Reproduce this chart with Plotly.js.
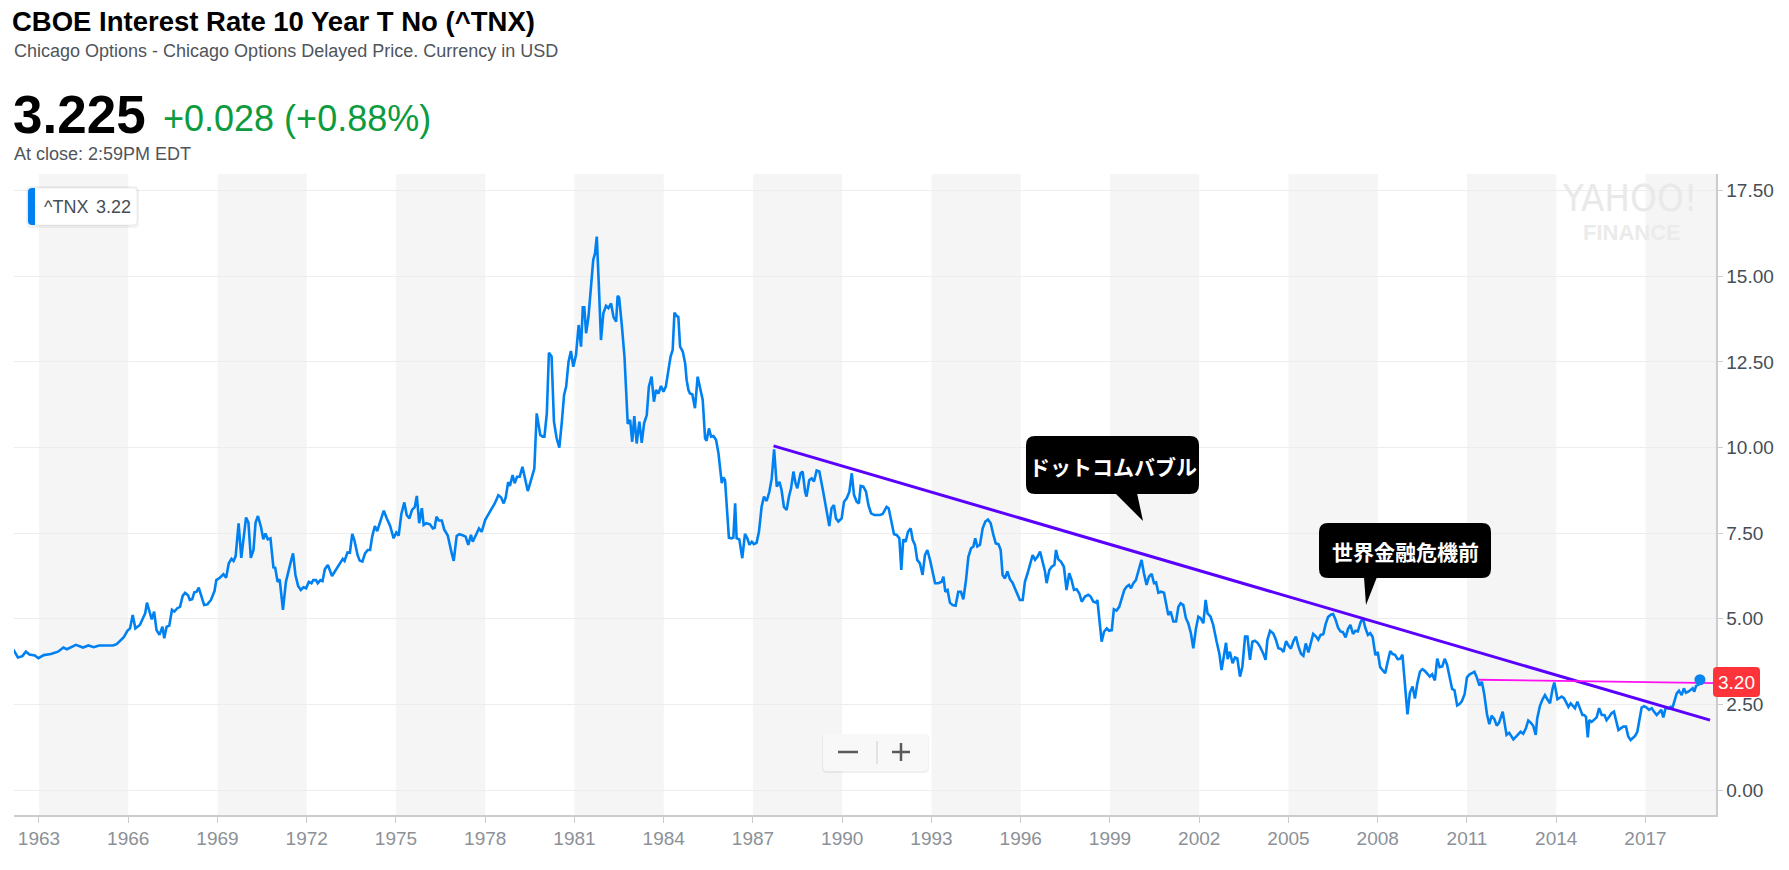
<!DOCTYPE html>
<html>
<head>
<meta charset="utf-8">
<script src="https://cdn.plot.ly/plotly-3.0.1.min.js"></script>
<style>
html,body{margin:0;padding:0;background:#fff;}
#chart{width:1789px;height:870px;}
</style>
</head>
<body>
<div id="chart"></div>
<script>
// ---- Data (decimal year, yield %) ----
const years = [
1962.08,1962.145,1962.29,1962.44,1962.56,1962.68,1962.86,1962.98,1963.16,1963.40,1963.64,1963.82,1963.94,
1964.24,1964.48,1964.66,1964.84,1965.02,1965.26,1965.49,1965.61,1965.85,1965.97,1966.06,1966.15,1966.24,
1966.39,1966.57,1966.63,1966.79,1966.87,1966.95,1967.05,1967.15,1967.21,1967.29,1967.38,1967.47,1967.55,
1967.65,1967.74,1967.83,1967.91,1968.01,1968.07,1968.15,1968.22,1968.30,1968.37,1968.46,1968.55,1968.66,
1968.78,1968.90,1968.96,1969.08,1969.20,1969.29,1969.38,1969.47,1969.54,1969.61,1969.71,1969.80,1969.88,
1969.96,1970.04,1970.12,1970.21,1970.28,1970.36,1970.46,1970.54,1970.61,1970.69,1970.78,1970.88,1970.94,
1971.02,1971.09,1971.20,1971.30,1971.48,1971.54,1971.62,1971.71,1971.80,1971.89,1971.98,1972.07,1972.16,
1972.22,1972.31,1972.37,1972.46,1972.53,1972.61,1972.71,1972.85,1972.97,1973.09,1973.21,1973.27,1973.37,
1973.45,1973.53,1973.60,1973.71,1973.78,1973.87,1973.96,1974.05,1974.13,1974.20,1974.29,1974.37,1974.47,
1974.59,1974.68,1974.80,1974.92,1975.01,1975.09,1975.18,1975.28,1975.36,1975.45,1975.54,1975.63,1975.70,
1975.78,1975.87,1975.93,1976.02,1976.14,1976.24,1976.30,1976.36,1976.44,1976.54,1976.62,1976.74,1976.86,
1976.94,1977.04,1977.13,1977.24,1977.34,1977.43,1977.52,1977.58,1977.70,1977.79,1977.88,1978.00,1978.11,
1978.23,1978.32,1978.44,1978.53,1978.62,1978.69,1978.77,1978.83,1978.92,1978.99,1979.07,1979.16,1979.25,
1979.35,1979.43,1979.51,1979.65,1979.73,1979.85,1979.93,1979.99,
1980.07,1980.14,1980.23,1980.31,1980.40,1980.49,1980.57,1980.65,1980.72,1980.80,1980.88,1980.96,1981.05,
1981.14,1981.22,1981.28,1981.33,1981.39,1981.47,1981.56,1981.63,1981.69,1981.75,1981.82,1981.89,1981.97,
1982.06,1982.14,1982.23,1982.31,1982.40,1982.45,1982.50,1982.59,1982.68,1982.79,1982.87,1982.94,1983.01,
1983.09,1983.18,1983.26,1983.34,1983.43,1983.50,1983.59,1983.67,1983.74,1983.82,1983.91,1983.99,1984.07,
1984.16,1984.23,1984.30,1984.36,1984.44,1984.49,1984.55,1984.64,1984.72,1984.77,1984.83,1984.88,1984.96,
1985.05,1985.14,1985.22,1985.31,1985.39,1985.44,1985.52,1985.59,1985.67,1985.76,1985.84,1985.95,1986.00,
1986.06,1986.12,1986.19,1986.28,1986.34,1986.40,1986.45,1986.54,1986.64,1986.73,1986.81,1986.88,1986.96,
1987.03,1987.12,1987.20,1987.29,1987.37,1987.46,1987.55,1987.63,1987.71,1987.80,1987.89,1987.96,1988.04,
1988.13,1988.21,1988.28,1988.36,1988.43,
1988.49,1988.60,1988.67,1988.75,1988.80,1988.89,1988.97,1989.05,1989.14,1989.23,1989.36,1989.48,1989.565,
1989.64,1989.72,1989.79,1989.87,1989.98,1990.06,1990.15,1990.24,1990.32,1990.395,1990.485,1990.56,1990.62,
1990.71,1990.80,1990.88,1990.97,1991.08,1991.18,1991.27,1991.36,1991.44,1991.49,1991.56,1991.64,1991.74,
1991.83,1991.92,1991.985,1992.05,1992.13,1992.21,1992.30,1992.37,1992.445,1992.52,1992.61,1992.70,1992.78,
1992.86,1992.95,1993.04,1993.12,1993.23,1993.34,1993.40,1993.465,1993.54,1993.62,1993.71,1993.81,1993.90,
1993.99,1994.07,1994.16,1994.24,1994.33,1994.41,1994.47,1994.54,1994.63,1994.72,1994.81,1994.90,1994.99,
1995.08,1995.16,1995.25,1995.325,1995.39,1995.47,1995.55,1995.64,1995.72,1995.81,1995.885,1995.97,1996.065,
1996.14,1996.23,1996.31,1996.40,1996.48,1996.56,1996.65,1996.74,1996.815,1996.87,1996.96,1997.04,1997.13,
1997.185,1997.26,1997.35,1997.45,1997.54,1997.63,1997.71,1997.79,1997.88,1997.97,1998.05,1998.16,1998.27,
1998.35,1998.44,1998.53,1998.575,1998.64,1998.72,1998.80,1998.89,1998.97,1999.06,1999.13,1999.22,1999.31,
1999.39,1999.48,1999.56,1999.64,1999.705,1999.785,1999.87,1999.95,2000.06,2000.14,2000.23,2000.31,2000.40,
2000.48,2000.55,2000.625,2000.715,2000.815,2000.88,2000.96,2001.04,2001.13,2001.22,2001.30,2001.375,2001.465,
2001.555,2001.63,2001.72,2001.80,2001.89,2001.97,2002.05,2002.137,2002.215,2002.28,2002.38,2002.47,2002.585,
2002.675,2002.75,2002.83,2002.90,2002.955,2003.03,2003.12,2003.20,2003.28,2003.37,2003.45,2003.54,2003.62,
2003.705,2003.785,2003.87,2003.96,2004.04,2004.15,2004.23,2004.29,2004.38,2004.49,2004.58,2004.66,2004.715,
2004.75,2004.83,2004.92,2005.00,2005.08,2005.17,2005.25,2005.33,2005.42,2005.50,2005.58,2005.67,2005.75,
2005.83,2005.92,2006.00,2006.08,2006.17,2006.25,2006.33,2006.42,2006.50,2006.58,2006.67,2006.75,2006.83,
2006.92,2007.00,2007.08,2007.17,2007.25,2007.33,2007.42,2007.50,2007.58,2007.67,2007.75,2007.83,2007.92,
2008.00,2008.08,2008.17,2008.25,2008.33,2008.42,2008.50,2008.58,2008.67,2008.75,2008.83,2008.92,2009.00,
2009.08,2009.17,2009.25,2009.33,2009.42,2009.50,2009.58,2009.67,2009.75,2009.83,2009.92,2010.00,2010.08,
2010.17,2010.25,2010.33,2010.42,2010.50,2010.58,2010.67,2010.75,2010.83,2010.92,2011.00,2011.08,2011.17,
2011.25,2011.33,2011.42,2011.50,2011.58,2011.67,2011.75,2011.83,2011.92,2012.00,2012.08,
2012.20,2012.28,2012.33,2012.42,2012.50,2012.56,2012.65,2012.725,2012.80,2012.89,2012.98,2013.06,2013.14,
2013.23,2013.31,2013.36,2013.45,2013.54,2013.62,2013.70,2013.79,2013.88,2013.935,2013.99,2014.04,2014.10,
2014.18,2014.26,2014.33,2014.41,2014.485,2014.55,2014.63,2014.71,2014.80,2014.88,2014.94,2015.00,2015.06,
2015.11,2015.19,2015.27,2015.36,2015.44,2015.53,2015.62,2015.69,2015.78,2015.86,2015.94,2016.01,2016.09,
2016.165,2016.255,2016.345,2016.42,2016.50,2016.57,2016.65,2016.725,2016.79,2016.87,2016.95,2017.04,2017.12,
2017.21,2017.285,2017.375,2017.45,2017.53,2017.60,2017.68,2017.77,2017.85,2017.91,2017.97,2018.05,2018.125,
2018.215,2018.29,2018.36,2018.44,2018.52,2018.585,2018.64,2018.70,2018.78,2018.83
];
const yields = [
4.12,4.09,3.87,3.91,4.04,3.96,3.93,3.85,3.94,3.97,4.04,4.16,4.11,
4.24,4.16,4.22,4.17,4.22,4.22,4.22,4.26,4.46,4.65,4.72,5.11,4.72,
4.82,5.16,5.47,4.98,5.21,4.67,4.53,4.77,4.43,4.77,4.80,5.26,5.21,
5.31,5.35,5.67,5.76,5.69,5.55,5.57,5.77,5.79,5.91,5.65,5.40,5.42,
5.55,5.81,6.13,6.20,6.30,6.20,6.62,6.75,6.69,6.83,7.79,6.78,7.30,
7.96,7.81,6.78,7.01,7.81,8.00,7.69,7.32,7.49,7.32,7.35,6.50,6.49,
6.08,6.15,5.26,6.08,6.72,6.91,6.28,5.96,5.84,5.92,5.89,6.08,6.04,
6.13,6.13,6.04,6.13,6.10,6.45,6.57,6.25,6.42,6.57,6.75,6.69,6.94,
6.93,7.48,7.30,6.86,6.70,6.67,6.91,7.01,7.01,7.40,7.71,7.56,7.84,
8.16,7.95,7.72,7.35,7.52,7.43,8.06,8.40,8.03,7.93,8.18,8.26,8.59,
7.79,8.23,7.74,7.79,7.76,7.64,7.66,7.98,7.87,7.87,7.61,7.43,6.96,
6.69,7.42,7.47,7.44,7.40,7.16,7.45,7.25,7.45,7.64,7.54,7.89,8.06,
8.23,8.37,8.61,8.55,8.37,8.55,8.99,8.88,9.20,8.96,9.15,9.15,9.44,
9.07,8.73,8.96,9.39,11.00,10.37,10.32,10.32,
11.00,12.77,12.66,10.76,10.27,10.00,10.71,11.54,11.78,12.51,12.82,12.36,12.70,
13.58,12.95,14.10,14.10,13.34,13.82,14.70,15.48,15.67,16.16,14.70,13.14,13.92,
14.14,14.07,14.21,13.82,13.68,14.43,14.38,13.58,12.66,10.69,10.81,10.17,10.92,
10.12,10.76,10.14,10.71,10.95,11.78,12.07,11.34,11.68,11.58,11.80,11.63,11.78,
12.27,12.66,12.85,13.94,13.84,13.82,12.95,12.80,12.46,11.97,11.68,11.58,11.56,
11.15,12.07,11.78,11.39,10.27,10.20,10.56,10.32,10.34,10.22,9.83,8.96,9.13,
9.05,8.27,7.37,7.35,7.37,8.37,7.35,7.32,6.77,7.48,7.35,7.16,7.25,
7.18,7.22,7.54,8.27,8.57,8.44,8.71,9.10,9.95,8.86,9.00,8.76,8.27,
8.18,8.57,8.81,9.30,8.96,
8.81,9.25,9.30,8.71,8.57,9.05,9.10,9.01,9.33,9.30,8.71,8.13,7.71,
8.23,8.32,7.93,7.84,7.93,8.42,8.52,8.71,9.25,8.62,8.42,8.37,8.88,
8.86,8.71,8.32,8.08,8.03,8.03,8.03,8.06,8.18,8.27,8.23,7.89,7.47,
7.45,7.35,6.43,7.32,7.25,7.54,7.64,7.30,7.16,6.72,6.62,6.28,6.86,
7.01,6.72,6.38,6.04,6.04,6.08,6.23,5.79,5.84,5.47,5.40,5.38,5.79,
5.79,5.57,6.13,6.81,7.06,7.11,7.35,7.11,7.16,7.64,7.84,7.90,7.79,
7.45,7.20,7.18,7.01,6.28,6.18,6.38,6.15,6.06,5.89,5.70,5.55,5.55,
6.08,6.33,6.62,6.86,6.72,6.81,6.96,6.67,6.38,6.04,6.42,6.52,6.57,
7.01,6.74,6.67,6.52,5.84,6.33,6.13,5.84,5.86,5.74,5.50,5.65,5.70,
5.65,5.50,5.47,5.55,5.06,4.33,4.62,4.72,4.65,4.67,5.28,5.24,5.35,
5.60,5.84,5.94,5.99,5.89,6.04,6.13,6.38,6.72,6.33,5.99,6.23,6.31,
6.04,6.06,5.76,5.79,5.76,5.50,5.11,5.21,4.92,4.92,5.35,5.45,5.40,
5.01,4.87,4.58,4.14,4.72,5.06,5.01,4.87,5.55,5.16,5.06,4.82,4.33,
3.99,3.50,3.99,4.30,3.82,4.04,3.70,3.87,3.84,3.31,3.60,4.48,4.48,
3.80,4.33,4.36,4.30,4.19,3.99,3.80,4.38,4.65,4.57,4.38,4.14,4.14,
4.12,4.03,4.35,4.22,4.13,4.36,4.48,4.20,3.98,3.92,4.28,4.02,4.33,
4.56,4.49,4.39,4.53,4.55,4.85,5.05,5.12,5.14,4.98,4.73,4.63,4.61,
4.46,4.70,4.82,4.56,4.65,4.63,4.89,5.03,4.74,4.53,4.58,4.47,3.94,
4.03,3.59,3.51,3.41,3.73,4.06,3.97,3.95,3.82,3.83,3.95,2.92,2.21,
2.84,3.02,2.67,3.12,3.46,3.53,3.48,3.40,3.31,3.38,3.20,3.84,3.59,
3.61,3.83,3.66,3.29,2.95,2.91,2.47,2.51,2.60,2.80,3.29,3.37,3.42,
3.45,3.29,3.05,3.16,2.80,2.22,1.92,2.17,2.07,1.88,1.97,
2.29,1.85,1.61,1.67,1.56,1.48,1.56,1.63,1.70,1.64,1.80,2.03,1.97,
1.87,1.61,2.09,2.45,2.65,2.77,2.65,2.53,2.97,3.14,2.89,2.65,2.68,
2.73,2.68,2.58,2.43,2.53,2.48,2.39,2.58,2.34,2.19,2.19,2.14,1.54,
2.04,1.99,2.04,2.12,2.39,2.19,2.19,2.04,2.14,2.24,2.29,2.04,1.75,
1.80,1.85,1.85,1.56,1.46,1.51,1.58,1.70,1.99,2.41,2.45,2.41,2.34,
2.39,2.29,2.19,2.26,2.34,2.12,2.41,2.38,2.43,2.41,2.58,2.82,2.90,
2.77,2.97,2.84,2.87,2.92,2.97,2.87,3.04,3.07,3.22
];

// Drawn lines (trend line and level line) as on the reference
const trendX = [1987.69, 2019.17];
const trendY = [10.05, 2.04];
const levelX = [2011.40, 2019.37];
const levelY = [3.22, 3.12];

// Axis ticks
const xTickVals = [1963,1966,1969,1972,1975,1978,1981,1984,1987,1990,1993,1996,1999,2002,2005,2008,2011,2014,2017,2020];
const xTickText = xTickVals.map(String);
const yTickVals = [0,2.5,5,7.5,10,12.5,15,17.5];
const yTickText = yTickVals.map(v => v.toFixed(2));
const bandStarts = [1963,1969,1975,1981,1987,1993,1999,2005,2011,2017];

const xRange = [1962.16, 2019.37];
const yRange = [-0.73, 17.99];

// pixel -> paper helpers (plot area: x 14..1716, y 174..815)
const L = 14, R = 1716, T = 174, B = 815;
const P = x => (x - L) / (R - L);
const Q = y => (B - y) / (B - T);

function rrPath(x0, y0, x1, y1, r) {
  const f = (x, y) => P(x).toFixed(5) + ',' + Q(y).toFixed(5);
  return 'M' + f(x0 + r, y0) + ' L' + f(x1 - r, y0) + ' Q' + f(x1, y0) + ' ' + f(x1, y0 + r) +
    ' L' + f(x1, y1 - r) + ' Q' + f(x1, y1) + ' ' + f(x1 - r, y1) +
    ' L' + f(x0 + r, y1) + ' Q' + f(x0, y1) + ' ' + f(x0, y1 - r) +
    ' L' + f(x0, y0 + r) + ' Q' + f(x0, y0) + ' ' + f(x0 + r, y0) + ' Z';
}
function triPath(pts) {
  return 'M' + pts.map(p => P(p[0]).toFixed(5) + ',' + Q(p[1]).toFixed(5)).join(' L') + ' Z';
}
function pshape(path, fill, extra) {
  return Object.assign({type: 'path', xref: 'paper', yref: 'paper', path: path, fillcolor: fill,
    line: {width: 0}, layer: 'above'}, extra || {});
}
function pline(x0, y0, x1, y1, color, w) {
  return {type: 'line', xref: 'paper', yref: 'paper', x0: P(x0), y0: Q(y0), x1: P(x1), y1: Q(y1),
    line: {color: color, width: w}, layer: 'above'};
}

const FONT = 'Liberation Sans, Arial, Helvetica, sans-serif';
const JP = 'Noto Sans CJK JP, Noto Sans CJK SC, sans-serif';

function ann(text, x, y, size, color, opts) {
  return Object.assign({text: text, xref: 'paper', yref: 'paper', x: P(x), y: Q(y),
    xanchor: 'left', yanchor: 'middle', showarrow: false,
    font: {family: FONT, size: size, color: color}}, opts || {});
}

const shapes = [];
bandStarts.forEach(s => {
  shapes.push({type: 'rect', xref: 'x', yref: 'paper', x0: s, x1: Math.min(s + 3, xRange[1]), y0: 0, y1: 1,
    fillcolor: '#f5f5f5', line: {width: 0}, layer: 'below'});
});
// legend box
shapes.push(pshape(rrPath(26, 186, 139, 228, 5), 'rgba(0,0,0,0.05)'));
shapes.push(pshape(rrPath(28, 188, 137, 225, 4), '#ffffff', {line: {color: 'rgba(0,0,0,0.06)', width: 1}}));
shapes.push(pshape('M' + P(32).toFixed(5) + ',' + Q(188).toFixed(5) + ' L' + P(35).toFixed(5) + ',' + Q(188).toFixed(5) +
  ' L' + P(35).toFixed(5) + ',' + Q(225).toFixed(5) + ' L' + P(32).toFixed(5) + ',' + Q(225).toFixed(5) +
  ' Q' + P(28).toFixed(5) + ',' + Q(225).toFixed(5) + ' ' + P(28).toFixed(5) + ',' + Q(221).toFixed(5) +
  ' L' + P(28).toFixed(5) + ',' + Q(192).toFixed(5) + ' Q' + P(28).toFixed(5) + ',' + Q(188).toFixed(5) + ' ' +
  P(32).toFixed(5) + ',' + Q(188).toFixed(5) + ' Z', '#0081f2'));
// zoom control
shapes.push(pshape(rrPath(822, 734, 929, 773, 5), 'rgba(0,0,0,0.06)'));
shapes.push(pshape(rrPath(823, 734, 928, 771, 4), '#f8f8f8'));
shapes.push(pline(877, 741, 877, 764, '#cfcfcf', 1));
shapes.push(pline(838, 752, 858, 752, '#5a5a5a', 2.5));
shapes.push(pline(892, 752, 910, 752, '#5a5a5a', 2.5));
shapes.push(pline(901, 743, 901, 761, '#5a5a5a', 2.5));
// callouts
shapes.push(pshape(rrPath(1026, 436, 1199, 494, 9), '#000000'));
shapes.push(pshape(triPath([[1115, 493], [1137, 493], [1143, 521]]), '#000000'));
shapes.push(pshape(rrPath(1319, 523, 1491, 578, 9), '#000000'));
shapes.push(pshape(triPath([[1364, 577], [1377, 577], [1366, 605]]), '#000000'));
// red price label
shapes.push(pshape(rrPath(1713, 667, 1760, 697, 4), '#ff333a'));

const annotations = [
  ann('Chicago Options - Chicago Options Delayed Price. Currency in USD', 12, 51, 18, '#4f555b'),
  ann('<b>3.225</b>', 11, 114, 53, '#000000'),
  ann('+0.028 (+0.88%)', 161, 119, 36, '#0c9b3f'),
  ann('At close: 2:59PM EDT', 12, 154, 18, '#4f555b'),
  ann('^TNX', 42, 206.5, 18, '#464e56'),
  ann('3.22', 94, 206.5, 18, '#464e56'),
  ann('YAHOO!', 1630, 198, 38, '#e9e9e9', {xanchor: 'center', font: {family: 'Liberation Sans Narrow, DejaVu Sans Condensed, Arial', size: 38, color: '#e9e9e9'}}),
  ann('<b>FINANCE</b>', 1632, 233, 22, '#ebebeb', {xanchor: 'center'}),
  ann('<b>ドットコムバブル</b>', 1112.5, 466, 21, '#ffffff', {xanchor: 'center', font: {family: JP, size: 21, color: '#ffffff'}}),
  ann('<b>世界金融危機前</b>', 1405, 551, 21, '#ffffff', {xanchor: 'center', font: {family: JP, size: 21, color: '#ffffff'}}),
  ann('3.20', 1736.5, 682.5, 19, '#ffffff', {xanchor: 'center'})
];

const traces = [
  {x: years, y: yields, type: 'scatter', mode: 'lines', line: {color: '#0081f2', width: 2.6, shape: 'linear'},
   hoverinfo: 'skip', showlegend: false},
  {x: trendX, y: trendY, type: 'scatter', mode: 'lines', line: {color: '#5a00ff', width: 3},
   hoverinfo: 'skip', showlegend: false},
  {x: levelX, y: levelY, type: 'scatter', mode: 'lines', line: {color: '#ff10f0', width: 1.8},
   hoverinfo: 'skip', showlegend: false, cliponaxis: false},
  {x: [years[years.length - 1]], y: [yields[yields.length - 1]], type: 'scatter', mode: 'markers',
   marker: {color: '#0a84f0', size: 11}, hoverinfo: 'skip', showlegend: false, cliponaxis: false}
];

const layout = {
  width: 1789, height: 870,
  margin: {l: L, r: 1789 - R, t: T, b: 870 - B, pad: 0},
  paper_bgcolor: '#ffffff', plot_bgcolor: '#ffffff',
  font: {family: FONT},
  title: {text: '<b>CBOE Interest Rate 10 Year T No (^TNX)</b>', xref: 'container', yref: 'container',
    x: 12 / 1789, xanchor: 'left', y: 1 - 21 / 870, yanchor: 'middle',
    font: {family: FONT, size: 27.5, color: '#000000'}},
  showlegend: false,
  xaxis: {
    type: 'linear', range: xRange, tickmode: 'array', tickvals: xTickVals, ticktext: xTickText,
    showgrid: false, zeroline: false, showline: true, linecolor: '#cccccc', linewidth: 1.5,
    ticks: 'outside', ticklen: 6, tickcolor: '#cccccc', tickwidth: 1,
    tickfont: {family: FONT, size: 19, color: '#8c9197'}, fixedrange: true
  },
  yaxis: {
    side: 'right', range: yRange, tickmode: 'array', tickvals: yTickVals, ticktext: yTickText,
    showgrid: true, gridcolor: '#ededed', gridwidth: 1, zeroline: false,
    showline: true, linecolor: '#cccccc', linewidth: 1.5,
    ticks: 'outside', ticklen: 5, tickcolor: '#cccccc', tickwidth: 1,
    tickfont: {family: FONT, size: 19, color: '#464e56'}, fixedrange: true
  },
  shapes: shapes,
  annotations: annotations
};

Plotly.newPlot('chart', traces, layout, {displayModeBar: false, staticPlot: true});
</script>
</body>
</html>
